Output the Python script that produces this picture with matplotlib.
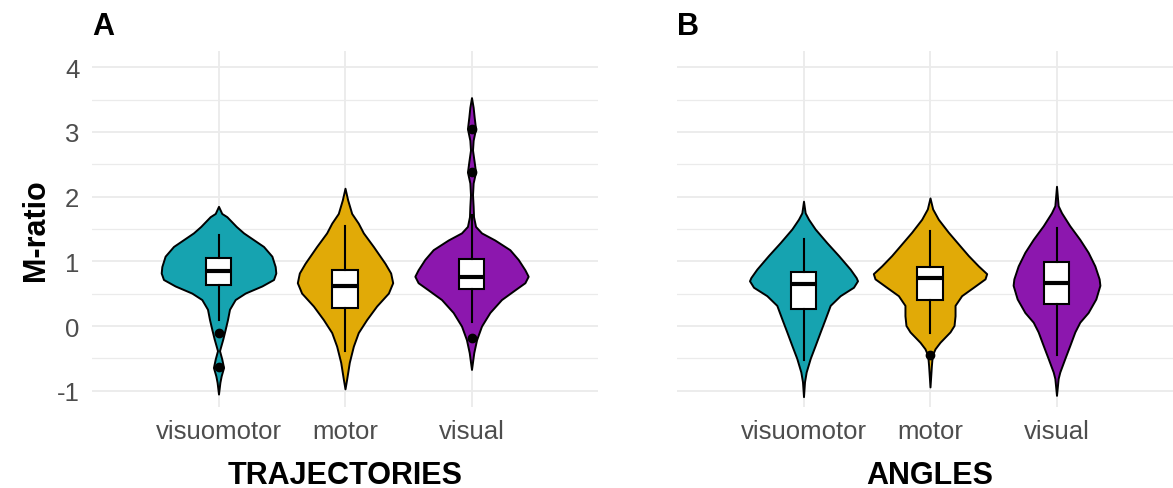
import matplotlib
matplotlib.use("Agg")
import matplotlib.pyplot as plt
import numpy as np

plt.rcParams['font.family'] = ['Liberation Sans', 'DejaVu Sans']
plt.rcParams['axes.unicode_minus'] = False

categories = ["visuomotor", "motor", "visual"]
colors = ["#16A3B0", "#E1AA07", "#8C17AE"]
panel_titles = ["TRAJECTORIES", "ANGLES"]
panel_tags = ["A", "B"]
y_ticks = [-1, 0, 1, 2, 3, 4]

# Violin outlines: y values and half-widths (x units)
# Panel A (TRAJECTORIES)
a_vm_y  = [-1.05, -0.87, -0.77, -0.64, -0.51, -0.38, -0.31, -0.20, -0.05, 0.10, 0.26, 0.41, 0.51, 0.62, 0.72, 0.82, 0.92, 1.08, 1.23, 1.44, 1.54, 1.69, 1.74, 1.85]
a_vm_hw = [0.0, 0.011, 0.021, 0.040, 0.026, 0.008, 0.018, 0.034, 0.053, 0.071, 0.087, 0.132, 0.211, 0.343, 0.435, 0.453, 0.448, 0.422, 0.356, 0.198, 0.140, 0.066, 0.026, 0.0]
a_mo_y  = [-0.97, -0.82, -0.56, -0.31, -0.10, 0.10, 0.31, 0.51, 0.67, 0.82, 0.97, 1.23, 1.44, 1.59, 1.74, 1.95, 2.13]
a_mo_hw = [0.0, 0.013, 0.034, 0.066, 0.105, 0.171, 0.250, 0.343, 0.377, 0.361, 0.316, 0.224, 0.145, 0.105, 0.053, 0.021, 0.0]
a_vi_y  = [-0.67, -0.41, -0.21, 0.00, 0.21, 0.41, 0.56, 0.67, 0.77, 0.87, 1.03, 1.18, 1.33, 1.44, 1.54, 1.69, 1.85, 2.03, 2.21, 2.38, 2.54, 2.72, 2.87, 3.05, 3.23, 3.38, 3.53]
a_vi_hw = [0.0, 0.018, 0.040, 0.079, 0.145, 0.237, 0.343, 0.422, 0.448, 0.422, 0.369, 0.303, 0.184, 0.079, 0.032, 0.016, 0.013, 0.008, 0.013, 0.032, 0.021, 0.008, 0.013, 0.032, 0.021, 0.013, 0.0]
# Panel B (ANGLES)
b_vm_y  = [-1.09, -0.86, -0.71, -0.50, -0.30, -0.09, 0.11, 0.32, 0.47, 0.60, 0.70, 0.75, 0.88, 1.09, 1.29, 1.50, 1.65, 1.75, 1.93]
b_vm_hw = [0.0, 0.008, 0.021, 0.053, 0.092, 0.132, 0.171, 0.211, 0.290, 0.395, 0.427, 0.416, 0.369, 0.277, 0.184, 0.092, 0.040, 0.013, 0.0]
b_mo_y  = [-0.94, -0.61, -0.45, -0.35, -0.25, -0.09, 0.01, 0.16, 0.32, 0.47, 0.60, 0.73, 0.81, 0.93, 1.09, 1.24, 1.45, 1.65, 1.81, 1.98]
b_mo_hw = [0.0, 0.011, 0.018, 0.040, 0.079, 0.158, 0.190, 0.198, 0.198, 0.250, 0.343, 0.435, 0.448, 0.382, 0.303, 0.237, 0.145, 0.066, 0.021, 0.0]
b_vi_y  = [-1.07, -0.81, -0.71, -0.50, -0.30, -0.09, 0.06, 0.21, 0.42, 0.63, 0.73, 0.93, 1.14, 1.34, 1.55, 1.75, 1.86, 2.16]
b_vi_hw = [0.0, 0.013, 0.026, 0.066, 0.105, 0.145, 0.184, 0.250, 0.311, 0.343, 0.337, 0.303, 0.250, 0.184, 0.105, 0.040, 0.013, 0.0]

# Box-plot statistics
a_whislo = [0.10, -0.38, 0.06]
a_q1     = [0.64, 0.28, 0.57]
a_med    = [0.85, 0.62, 0.76]
a_q3     = [1.05, 0.86, 1.03]
a_whishi = [1.40, 1.55, 1.72]
a_fliers = [[-0.10, -0.63], [], [3.05, 2.38, -0.19]]
b_whislo = [-0.52, -0.10, -0.44]
b_q1     = [0.26, 0.41, 0.34]
b_med    = [0.65, 0.75, 0.67]
b_q3     = [0.84, 0.92, 0.99]
b_whishi = [1.35, 1.47, 1.52]
b_fliers = [[], [-0.44], []]

panels = [
    dict(vy=[a_vm_y, a_mo_y, a_vi_y], vw=[a_vm_hw, a_mo_hw, a_vi_hw],
         lo=a_whislo, q1=a_q1, med=a_med, q3=a_q3, hi=a_whishi, fl=a_fliers),
    dict(vy=[b_vm_y, b_mo_y, b_vi_y], vw=[b_vm_hw, b_mo_hw, b_vi_hw],
         lo=b_whislo, q1=b_q1, med=b_med, q3=b_q3, hi=b_whishi, fl=b_fliers),
]

W, H = 1173, 489
fig = plt.figure(figsize=(W / 100, H / 100), dpi=100)
fig.patch.set_facecolor("white")

ax_lefts = [92, 677]
ax_w, ax_top, ax_bot = 506, 52, 408
tick_color = "#4D4D4D"
grid_color = "#EBEBEB"

for i, p in enumerate(panels):
    ax = fig.add_axes([ax_lefts[i] / W, (H - ax_bot) / H, ax_w / W, (ax_bot - ax_top) / H])
    pos = np.arange(1, len(categories) + 1)
    vstats = []
    widths = []
    for yv, hw in zip(p["vy"], p["vw"]):
        yv = np.array(yv); hw = np.array(hw)
        vstats.append(dict(coords=yv, vals=hw, mean=np.nan, median=np.nan,
                           min=yv.min(), max=yv.max()))
        widths.append(2 * hw.max())
    parts = ax.violin(vstats, positions=pos, widths=widths,
                      showmeans=False, showextrema=False, showmedians=False)
    for body, c in zip(parts["bodies"], colors):
        body.set_facecolor(c)
        body.set_edgecolor("black")
        body.set_linewidth(1.4)
        body.set_alpha(1)
        body.set_zorder(2)
        body.set_joinstyle("round")
    bstats = []
    for k in range(len(categories)):
        bstats.append(dict(med=p["med"][k], q1=p["q1"][k], q3=p["q3"][k],
                           whislo=p["lo"][k], whishi=p["hi"][k], fliers=p["fl"][k]))
    ax.bxp(bstats, positions=pos, widths=0.2, patch_artist=True, showcaps=False,
           boxprops=dict(facecolor="white", edgecolor="black", linewidth=1.5),
           whiskerprops=dict(color="black", linewidth=1.5),
           medianprops=dict(color="black", linewidth=3.0),
           flierprops=dict(marker="o", markerfacecolor="black", markeredgecolor="black",
                           markersize=6),
           zorder=3)
    ax.set_xlim(0, 4)
    ax.set_ylim(-1.25, 4.25)
    ax.set_xticks(pos)
    ax.set_xticklabels(categories)
    ax.set_yticks(y_ticks)
    ax.set_yticks(np.arange(-0.5, 4.0, 1.0), minor=True)
    ax.grid(True, which="major", color=grid_color, linewidth=1.3, zorder=0)
    ax.grid(True, which="minor", axis="y", color=grid_color, linewidth=0.9, zorder=0)
    ax.set_axisbelow(True)
    for s in ax.spines.values():
        s.set_visible(False)
    ax.tick_params(axis="both", which="both", length=0, labelsize=18.5, colors=tick_color)
    ax.tick_params(axis="x", pad=9)
    ax.tick_params(axis="y", pad=9)
    if i == 0:
        ax.set_ylabel("M-ratio", fontsize=22, fontweight="bold", labelpad=4)
    else:
        ax.set_yticklabels([])
    ax.set_xlabel(panel_titles[i], fontsize=22, fontweight="bold", labelpad=12)
    fig.text(ax_lefts[i] / W, 1 - 27 / H, panel_tags[i], fontsize=22, fontweight="bold",
             ha="left", va="center")

fig.savefig("out.png", dpi=100)
